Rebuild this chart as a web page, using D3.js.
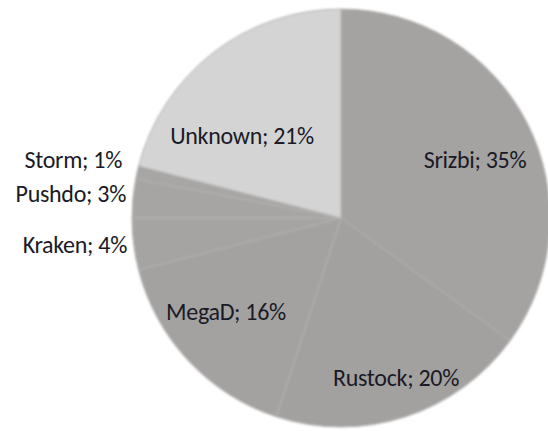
<!DOCTYPE html>
<html>
<head>
<meta charset="utf-8">
<script src="https://cdn.jsdelivr.net/npm/d3@7"></script>
<style>
  body { margin: 0; background: #fff; }
</style>
</head>
<body>
<svg id="pie"></svg>
<script>
// Slice data (clockwise from 12 o'clock)
const names = ["Srizbi", "Rustock", "MegaD", "Kraken", "Pushdo", "Storm", "Unknown"];
const shares = [35, 20, 16, 4, 3, 1, 21];
const fills = ["#a5a3a2", "#a3a1a0", "#a4a2a1", "#a6a4a3", "#a7a5a4", "#a8a6a5", "#d4d4d4"];

const width = 548, height = 431;
const cx = 341, cy = 218, radius = 209;

const svg = d3.select("#pie")
              .attr("width", width)
              .attr("height", height);

// soft edge like the scanned original
const defs = svg.append("defs");
defs.append("filter")
    .attr("id", "soft")
    .append("feGaussianBlur")
    .attr("stdDeviation", 0.8);

const slices = names.map((n, i) => ({ name: n, value: shares[i], fill: fills[i] }));

const pie = d3.pie()
              .sort(null)
              .value(d => d.value);

const arc = d3.arc()
              .innerRadius(0)
              .outerRadius(radius);

const g = svg.append("g")
             .attr("transform", `translate(${cx}, ${cy})`)
             .attr("filter", "url(#soft)");

g.selectAll("path")
 .data(pie(slices))
 .join("path")
 .attr("d", arc)
 .attr("fill", d => d.data.fill)
 .attr("stroke", "#b3b1b0")
 .attr("stroke-width", 1);

// label placement (Excel-style: inside for big slices, left of pie for small ones)
const labelPos = {
    Srizbi:  { x: 475, y: 168, anchor: "middle" },
    Rustock: { x: 396, y: 386, anchor: "middle" },
    MegaD:   { x: 226, y: 320, anchor: "middle" },
    Kraken:  { x: 127, y: 253, anchor: "end" },
    Pushdo:  { x: 126, y: 202, anchor: "end" },
    Storm:   { x: 122, y: 168, anchor: "end" },
    Unknown: { x: 242, y: 144, anchor: "middle" }
};

svg.append("g")
   .selectAll("text")
   .data(slices)
   .join("text")
   .attr("x", d => labelPos[d.name].x)
   .attr("y", d => labelPos[d.name].y)
   .attr("text-anchor", d => labelPos[d.name].anchor)
   .style("font-family", "Carlito, Calibri, Lato, sans-serif")
   .style("font-size", "24px")
   .style("letter-spacing", "-0.3px")
   .style("fill", "#1a1a26")
   .text(d => `${d.name}; ${d.value}%`);
</script>
</body>
</html>
